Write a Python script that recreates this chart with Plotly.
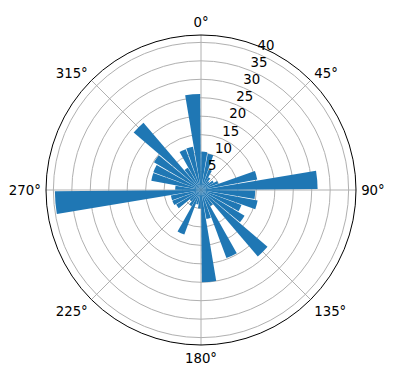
import plotly.graph_objects as go

# bin centres (degrees, clockwise from north) and bar lengths
directions = [5, 15, 25, 35, 45, 55, 65, 75, 85, 95, 105, 115,
              125, 135, 145, 155, 165, 175, 185, 195, 205, 215, 225, 235,
              245, 255, 265, 275, 285, 295, 305, 315, 325, 335, 345, 355]
counts = [10.4, 10, 6, 4, 3, 4, 5, 15.5, 31.6, 14.7, 15.6, 11.7,
          13.7, 23.7, 5, 19.7, 8, 25, 5, 4, 12.9, 5, 4, 7.8,
          8.3, 8.3, 39.6, 7, 13.7, 13.8, 14.8, 24, 7, 11.8, 11.9, 26]
radial_ticks = [5, 10, 15, 20, 25, 30, 35, 40]
radial_label_angle = 22.5
angle_ticks = [0, 45, 90, 135, 180, 225, 270, 315]

fig = go.Figure()
fig.add_trace(go.Barpolar(
    r=counts,
    theta=directions,
    width=[9] * len(directions),
    marker=dict(color="#1f77b4", line=dict(width=0)),
    opacity=1,
))

font = dict(family="DejaVu Sans", size=13.3, color="black")

# radial tick labels placed through the polar scale
fig.add_trace(go.Scatterpolar(
    r=radial_ticks,
    theta=[radial_label_angle] * len(radial_ticks),
    mode="text",
    text=[str(t) for t in radial_ticks],
    textposition="top right",
    textfont=font,
    hoverinfo="skip",
    cliponaxis=False,
))

fig.update_layout(
    width=396, height=380,
    margin=dict(l=46, r=40, t=35, b=35),
    paper_bgcolor="white",
    showlegend=False,
    font=font,
    polar=dict(
        bgcolor="white",
        domain=dict(x=[0, 1], y=[0, 1]),
        angularaxis=dict(
            rotation=90, direction="clockwise",
            tickmode="array", tickvals=angle_ticks,
            ticktext=[f"{a}°" for a in angle_ticks],
            showline=True, linecolor="black", linewidth=1,
            showgrid=True, gridcolor="#b0b0b0", gridwidth=0.8,
            ticks="outside", ticklen=2, tickcolor="rgba(0,0,0,0)",
            layer="above traces",
            tickfont=font,
        ),
        radialaxis=dict(
            range=[0, 42], angle=67.5,
            tickmode="array", tickvals=radial_ticks,
            showticklabels=False,
            showline=False, ticks="",
            showgrid=True, gridcolor="#b0b0b0", gridwidth=0.8,
            layer="above traces",
        ),
    ),
)

fig.write_html("out.html")
